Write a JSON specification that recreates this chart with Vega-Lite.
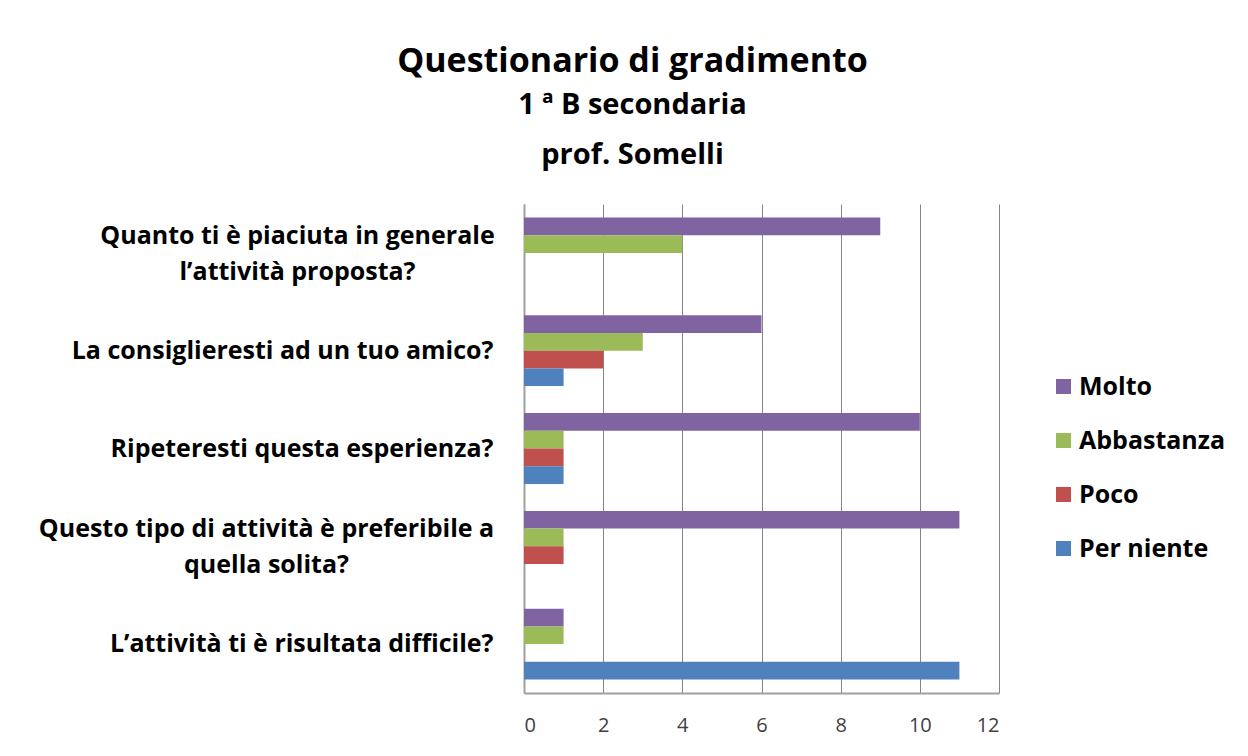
{
  "$schema": "https://vega.github.io/schema/vega-lite/v6.json",
  "width": 475,
  "height": 489,
  "autosize": {"type": "none"},
  "padding": {"left": 524, "top": 204, "right": 249, "bottom": 63},
  "background": "white",
  "config": {"view": {"stroke": null}, "font": "Open Sans"},
  "title": {
    "text": "Questionario di gradimento",
    "subtitle": ["1 ª B secondaria", "prof. Somelli"],
    "anchor": "middle",
    "dx": -129,
    "offset": 34,
    "font": "Open Sans",
    "fontSize": 34,
    "fontWeight": "bold",
    "color": "black",
    "subtitleFont": "Open Sans",
    "subtitleFontSize": 29,
    "subtitleFontWeight": "bold",
    "subtitleColor": "black",
    "subtitleLineHeight": 50,
    "subtitlePadding": 12
  },
  "data": {
    "values": [
      {"domanda": "Quanto ti è piaciuta in generale|l’attività proposta?", "risposta": "Molto", "n": 9},
      {"domanda": "Quanto ti è piaciuta in generale|l’attività proposta?", "risposta": "Abbastanza", "n": 4},
      {"domanda": "Quanto ti è piaciuta in generale|l’attività proposta?", "risposta": "Poco", "n": 0},
      {"domanda": "Quanto ti è piaciuta in generale|l’attività proposta?", "risposta": "Per niente", "n": 0},
      {"domanda": "La consiglieresti ad un tuo amico?", "risposta": "Molto", "n": 6},
      {"domanda": "La consiglieresti ad un tuo amico?", "risposta": "Abbastanza", "n": 3},
      {"domanda": "La consiglieresti ad un tuo amico?", "risposta": "Poco", "n": 2},
      {"domanda": "La consiglieresti ad un tuo amico?", "risposta": "Per niente", "n": 1},
      {"domanda": "Ripeteresti questa esperienza?", "risposta": "Molto", "n": 10},
      {"domanda": "Ripeteresti questa esperienza?", "risposta": "Abbastanza", "n": 1},
      {"domanda": "Ripeteresti questa esperienza?", "risposta": "Poco", "n": 1},
      {"domanda": "Ripeteresti questa esperienza?", "risposta": "Per niente", "n": 1},
      {"domanda": "Questo tipo di attività è preferibile a|quella solita?", "risposta": "Molto", "n": 11},
      {"domanda": "Questo tipo di attività è preferibile a|quella solita?", "risposta": "Abbastanza", "n": 1},
      {"domanda": "Questo tipo di attività è preferibile a|quella solita?", "risposta": "Poco", "n": 1},
      {"domanda": "Questo tipo di attività è preferibile a|quella solita?", "risposta": "Per niente", "n": 0},
      {"domanda": "L’attività ti è risultata difficile?", "risposta": "Molto", "n": 1},
      {"domanda": "L’attività ti è risultata difficile?", "risposta": "Abbastanza", "n": 1},
      {"domanda": "L’attività ti è risultata difficile?", "risposta": "Poco", "n": 0},
      {"domanda": "L’attività ti è risultata difficile?", "risposta": "Per niente", "n": 11}
    ]
  },
  "mark": {"type": "bar"},
  "encoding": {
    "y": {
      "field": "domanda",
      "type": "nominal",
      "sort": [
        "Quanto ti è piaciuta in generale|l’attività proposta?",
        "La consiglieresti ad un tuo amico?",
        "Ripeteresti questa esperienza?",
        "Questo tipo di attività è preferibile a|quella solita?",
        "L’attività ti è risultata difficile?"
      ],
      "scale": {"paddingInner": 0.276, "paddingOuter": 0.138},
      "axis": {
        "title": null,
        "labelExpr": "split(datum.label, '|')",
        "labelFont": "Open Sans",
        "labelFontSize": 25,
        "labelFontWeight": "bold",
        "labelColor": "black",
        "labelAlign": {"condition": {"test": "indexof(datum.value, '|') >= 0", "value": "center"}, "value": "right"},
        "labelBaseline": "middle",
        "labelLineHeight": 36,
        "labelOffset": {"condition": {"test": "indexof(datum.value, '|') >= 0", "value": -17}, "value": 0},
        "labelPadding": {"condition": [
          {"test": "indexof(datum.value, 'Quanto') == 0", "value": 227},
          {"test": "indexof(datum.value, 'Questo') == 0", "value": 258}
        ], "value": 31},
        "labelLimit": 0,
        "ticks": false,
        "domainColor": "#a0a0a0",
        "domainWidth": 2,
        "grid": false
      }
    },
    "yOffset": {
      "field": "risposta",
      "type": "nominal",
      "sort": ["Molto", "Abbastanza", "Poco", "Per niente"],
      "scale": {"paddingInner": 0, "paddingOuter": 0}
    },
    "x": {
      "field": "n",
      "type": "quantitative",
      "scale": {"domain": [0, 12], "nice": false},
      "axis": {
        "title": null,
        "values": [0, 2, 4, 6, 8, 10, 12],
        "labelFont": "Open Sans",
        "labelFontSize": 20,
        "labelColor": "#404040",
        "labelPadding": 22,
        "ticks": false,
        "domainColor": "#a0a0a0",
        "domainWidth": 2,
        "grid": true,
        "gridColor": "#868686",
        "gridWidth": 1
      }
    },
    "color": {
      "field": "risposta",
      "type": "nominal",
      "scale": {
        "domain": ["Molto", "Abbastanza", "Poco", "Per niente"],
        "range": ["#8064A2", "#9BBB59", "#C0504D", "#4F81BD"]
      },
      "legend": {
        "title": null,
        "orient": "none",
        "legendX": 527,
        "legendY": 170,
        "symbolType": "square",
        "symbolSize": 225,
        "symbolStrokeWidth": 0,
        "labelFont": "Open Sans",
        "labelFontSize": 25,
        "labelFontWeight": "bold",
        "labelColor": "black",
        "labelOffset": 3,
        "rowPadding": 28
      }
    }
  }
}
